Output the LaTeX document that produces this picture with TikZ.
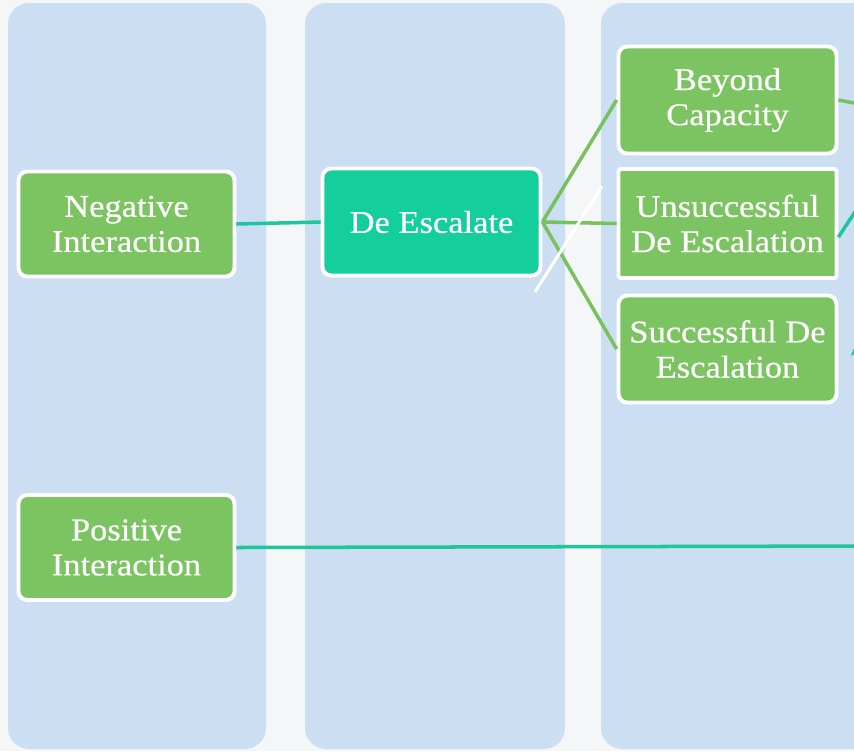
\documentclass[tikz,border=0pt]{standalone}
\usepackage{fontspec}
\setmainfont{Liberation Serif}[FakeStretch=1.09, FakeBold=0.4]
\usetikzlibrary{arrows.meta}
\definecolor{colblue}{HTML}{CCDEF2}
\definecolor{boxgreen}{HTML}{7CC462}
\definecolor{linegreen}{HTML}{78C25E}
\definecolor{deteal}{HTML}{14CE9B}
\definecolor{lineteal}{HTML}{1FC59B}
\definecolor{paper}{HTML}{F5F6F8}
\begin{document}
\begin{tikzpicture}[x=0.02cm, y=-0.02cm, font=\fontsize{18}{20}\selectfont, >=Stealth,
	box/.style={draw=white, line width=2.2pt, fill=boxgreen, text=white, rounded corners=5pt, align=center, inner sep=2pt, minimum width=4.32cm, minimum height=2.1cm},
	wide/.style={box, minimum width=4.36cm, minimum height=2.14cm},
	tealline/.style={draw=lineteal, line width=2pt},
	greenline/.style={draw=linegreen, line width=2pt}]
	\useasboundingbox (0,0) rectangle (854,751);
	\clip (0,0) rectangle (854,751);
	\fill[paper] (0,0) rectangle (854,751);
	% columns
	\foreach \a/\b in {8/266, 305/565, 601/880}{
	\fill[colblue, rounded corners=12pt] (\a,3) rectangle (\b,749);
	}
	% boxes
	\node[box] (neg) at (126.5,224) {Negative\\Interaction};
	\node[box] (pos) at (126.5,547.5) {Positive\\Interaction};
	\node[wide, fill=deteal] (desc) at (431.5,222) {De Escalate};
	\node[wide] (beyond) at (727.5,100) {Beyond\\Capacity};
	\node[wide, rounded corners=1pt, minimum height=2.18cm] (unsucc) at (727.5,223.5) {Unsuccessful\\De Escalation};
	\node[wide] (succ) at (727.5,349) {Successful De\\Escalation};
	% free ends
	\path (870,106) coordinate (B1) (870,189) coordinate (U1) (872,334) coordinate (S1) (870,546) coordinate (P1)
	(535,292) coordinate (W1) (602,186) coordinate (W2);
	\draw[tealline] (neg.east) -- (desc.west);
	\foreach \x in {beyond, unsucc, succ}{
	\draw[greenline] (desc.east) -- (\x.west);
	}
	\draw[white, line width=1.7pt] (W1) -- (W2);
	\draw[greenline] (beyond.east) -- (B1);
	\draw[tealline] (unsucc.-7) -- (U1);
	\draw[tealline, ->, shorten >=10pt] (S1) -- (succ.-10);
	\draw[tealline] (pos.east) -- (P1);
\end{tikzpicture}
\end{document}
